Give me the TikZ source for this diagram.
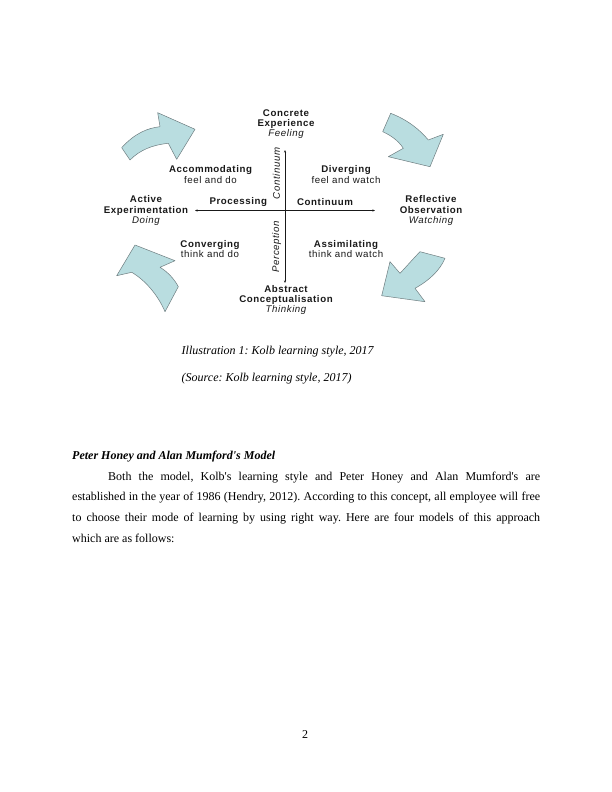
\documentclass[tikz,border=0pt]{standalone}
\usepackage{fontspec}
\setmainfont{Liberation Serif}[Ligatures=TeXOff]
\newfontfamily\kfont[LetterSpace=6]{Liberation Sans}
\usetikzlibrary{arrows.meta}
\definecolor{arrowfill}{RGB}{185,221,224}
\definecolor{arrowline}{RGB}{110,125,128}
\definecolor{txt}{RGB}{25,25,25}
\frenchspacing
\begin{document}
\begin{tikzpicture}[x=1pt,y=-1pt,
  lbl/.style={font=\kfont\fontsize{9.7}{10.2}\selectfont, align=center, inner sep=0pt, text=txt},
  vlbl/.style={lbl, rotate=90, font=\kfont\fontsize{9.7}{10.2}\selectfont\itshape},
  bigarrow/.style={fill=arrowfill, draw=arrowline, line width=0.5pt, line join=round},
  axis/.style={draw=txt, line width=0.6pt, {Stealth[length=2.5pt,width=2pt]}-{Stealth[length=2.5pt,width=2pt]}},
  serif/.style={font=\fontsize{12}{14}\selectfont, inner sep=0pt, anchor=base west}]
\useasboundingbox (0,0) rectangle (612,792);
\fill[white] (0,0) rectangle (612,792);

% big curved arrows
\draw[bigarrow] (121.7,147.7) .. controls (135,133) and (148,128) .. (160,126.7) -- (157.7,112.7) -- (195,129.3) -- (176.7,159.3) -- (168.3,143.3) .. controls (152,145) and (140,150) .. (130,160) -- cycle;
\draw[bigarrow] (390.7,113.3) .. controls (408,120) and (420,130) .. (428.3,140) -- (443.3,134.3) -- (430,166.7) -- (388.3,156.7) -- (403.3,148.3) .. controls (398,140) and (390,135) .. (382.7,131.7) -- cycle;
\draw[bigarrow] (135,245) -- (175,260.7) -- (160,267.3) .. controls (168,272) and (175,280) .. (178.3,286.7) -- (165,311.7) .. controls (158,295) and (145,280) .. (131.7,272.3) -- (116.7,275.7) -- cycle;
\draw[bigarrow] (420,251.7) .. controls (412,260) and (406,267) .. (400,273.3) -- (390,261.7) -- (381.7,295.7) -- (425,301.7) -- (415,288.3) .. controls (430,280) and (440,270) .. (445,258.3) -- cycle;

% axes
\coordinate (axT) at (285,150);
\coordinate (axB) at (285,283);
\coordinate (axL) at (195,210.5);
\coordinate (axR) at (375,210.5);
\draw[axis] (axL) -- (axR);
\draw[axis] (axT) -- (axB);

% labels
\node[lbl] (ce) at (286,124) {\bfseries Concrete\\\bfseries Experience\\\itshape Feeling};
\node[lbl] (acc) at (210.5,174.5) {\bfseries Accommodating\\feel and do};
\node[lbl] (div) at (346,174.5) {\bfseries Diverging\\feel and watch};
\node[lbl] (ae) at (146,210.5) {\bfseries Active\\\bfseries Experimentation\\\itshape Doing};
\node[lbl] (ro) at (431,210.5) {\bfseries Reflective\\\bfseries Observation\\\itshape Watching};
\node[lbl] (proc) at (238.3,202.3) {\bfseries Processing};
\node[lbl] (cont) at (325,202.3) {\bfseries Continuum};
\node[lbl] (conv) at (210,248.8) {\bfseries Converging\\think and do};
\node[lbl] (assim) at (346,248.8) {\bfseries Assimilating\\think and watch};
\node[lbl] (ac) at (286,299.8) {\bfseries Abstract\\\bfseries Conceptualisation\\\itshape Thinking};
\node[vlbl] (vcont) at (276.5,173.5) {Continuum};
\node[vlbl] (vperc) at (276.5,247) {Perception};

% caption
\node[serif] (cap1) at (181.5,354) {\itshape Illustration 1: Kolb learning style, 2017};
\node[serif] (cap2) at (181.5,381.6) {\itshape (Source: Kolb learning style, 2017)};

% heading and paragraph
\node[serif] (head) at (72,459.5) {\bfseries\itshape Peter Honey and Alan Mumford's Model};
\node[serif] (p1) at (108,480) {\makebox[432pt][s]{Both the model, Kolb's learning style and Peter Honey and Alan Mumford's are}};
\node[serif] (p2) at (72,500.7) {\makebox[468pt][s]{established in the year of 1986 (Hendry, 2012). According to this concept, all employee will free}};
\node[serif] (p3) at (72,521.4) {\makebox[468pt][s]{to choose their mode of learning by using right way. Here are four models of this approach}};
\node[serif] (p4) at (72,542.1) {which are as follows:};

% page number
\node[serif, anchor=base] (pg) at (305,738) {2};
\end{tikzpicture}
\end{document}
